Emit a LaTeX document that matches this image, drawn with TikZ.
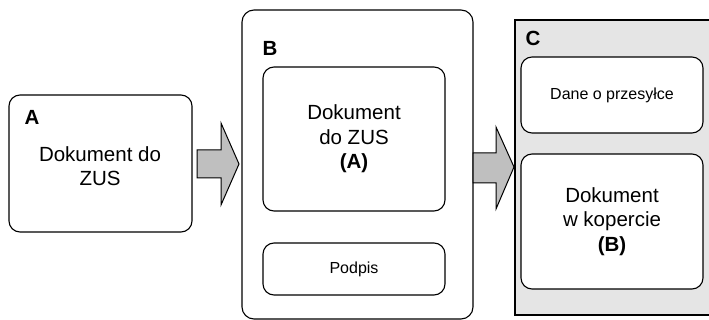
\documentclass[tikz,border=0pt]{standalone}
\usepackage{fontspec}
\setmainfont{Liberation Sans}
\begin{document}
\begin{tikzpicture}[x=1pt, y=-1pt, line width=1.1pt,
	roundbox/.style={draw, rounded corners=11pt, fill=white, align=center, inner sep=0pt},
	bigtext/.style={font=\fontsize{20.5}{24.5}\selectfont, align=center},
	smalltext/.style={font=\fontsize{16}{19}\selectfont},
	tag/.style={font=\fontsize{20.5}{24}\selectfont\bfseries, inner sep=0pt},
	blockarrow/.style={draw, fill=black!25, line width=1pt, line join=miter}]
	\useasboundingbox (0,0) rectangle (709,320);
	% A
	\node[roundbox, minimum width=183pt, minimum height=137pt] (docA) at (100.5,163.5) {};
	\node[bigtext] (docAtext) at (100,166) {Dokument do\\ZUS};
	\node[tag] (tagA) at (32,117) {A};
	% B
	\node[roundbox, minimum width=231pt, minimum height=309pt, rounded corners=12pt] (boxB) at (357.5,164.5) {};
	\node[tag] (tagB) at (270,48) {B};
	\node[roundbox, bigtext, minimum width=182pt, minimum height=144pt] (docB) at (354,139) {Dokument\\do ZUS\\\textbf{(A)}};
	\node[roundbox, smalltext, minimum width=182pt, minimum height=52pt] (sign) at (354,269) {Podpis};
	% C
	\draw[fill=black!10] (515,20) rectangle (715,315);
	\node[tag] (tagC) at (533,38) {C};
	\node[roundbox, smalltext, minimum width=182pt, minimum height=76pt] (info) at (612,95) {Dane o przesyłce};
	\node[roundbox, bigtext, minimum width=182pt, minimum height=135pt] (docC) at (612,221.5) {Dokument\\w kopercie\\\textbf{(B)}};
	% arrows
	\draw[blockarrow] (197,150) -- (221,150) -- (221,123) -- (239,164) -- (221,205) -- (221,178) -- (197,178) -- cycle;
	\draw[blockarrow] (473,153) -- (496,153) -- (496,127) -- (514,167) -- (496,209) -- (496,183) -- (473,183) -- cycle;
\end{tikzpicture}
\end{document}
